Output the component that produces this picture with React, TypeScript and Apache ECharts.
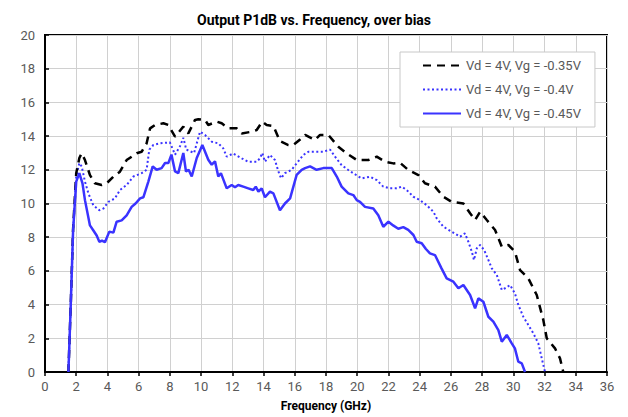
import React, { useEffect, useRef } from "react";
import * as echarts from "echarts";

const seriesNames = ["Vd = 4V, Vg = -0.35V", "Vd = 4V, Vg = -0.4V", "Vd = 4V, Vg = -0.45V"];

const freq35 = [1.5, 1.65, 1.8, 2.0, 2.2, 2.35, 2.56, 2.88, 3.2, 3.63, 3.95, 4.38, 4.8, 5.23, 5.87, 6.19, 6.51, 6.73, 7.05, 7.58, 7.9, 8.33, 8.86, 9.18, 9.61, 9.82, 10.25, 10.46, 11.0, 11.32, 11.74, 12.28, 12.6, 13.24, 13.56, 13.92, 14.2, 14.63, 15.05, 15.59, 15.9, 16.34, 16.66, 17.09, 17.3, 17.62, 18.15, 18.79, 19.32, 19.97, 20.71, 21.25, 21.78, 22.31, 22.74, 23.27, 23.92, 24.34, 24.98, 25.52, 26.05, 26.8, 27.23, 27.55, 27.87, 28.3, 28.83, 29.26, 29.68, 30.1, 30.43, 30.96, 31.5, 31.92, 32.14, 32.67, 32.99, 33.2];
const p1db35 = [0, 4, 8.5, 11.8, 12.7, 12.98, 12.58, 11.69, 11.2, 11.1, 11.2, 11.59, 11.89, 12.58, 12.98, 13.07, 13.57, 14.46, 14.66, 14.76, 14.66, 13.97, 14.56, 14.16, 14.96, 15.0, 14.96, 14.66, 14.86, 14.76, 14.46, 14.46, 14.16, 14.26, 14.36, 14.86, 14.66, 14.6, 13.7, 13.47, 13.47, 13.8, 14.07, 13.87, 13.77, 14.07, 14.07, 13.37, 12.98, 12.58, 12.58, 12.78, 12.48, 12.38, 12.42, 11.99, 11.69, 11.2, 11.0, 10.4, 10.1, 10.0, 9.42, 9.02, 9.51, 9.02, 8.43, 7.44, 7.54, 7.14, 6.05, 5.56, 4.57, 3.09, 2.0, 1.4, 0.81, 0];

const freq40 = [1.5, 1.65, 1.8, 2.0, 2.2, 2.35, 2.56, 2.78, 3.09, 3.48, 3.74, 4.06, 4.48, 4.8, 5.23, 5.66, 6.19, 6.51, 6.68, 6.94, 7.37, 8.0, 8.33, 8.65, 8.86, 9.05, 9.3, 9.55, 9.93, 10.25, 10.68, 11.1, 11.42, 11.64, 12.06, 12.6, 13.02, 13.56, 13.77, 13.92, 14.09, 14.41, 14.73, 14.95, 15.12, 15.37, 15.8, 16.12, 16.55, 16.87, 17.3, 17.83, 18.26, 18.58, 19.0, 19.43, 19.75, 20.29, 20.82, 21.25, 21.67, 22.1, 22.53, 22.85, 23.17, 23.6, 24.02, 24.45, 24.88, 25.09, 25.52, 26.05, 26.59, 26.9, 27.12, 27.34, 27.48, 27.66, 27.87, 28.13, 28.4, 28.62, 28.94, 29.26, 29.47, 29.79, 30.1, 30.32, 30.64, 30.96, 31.28, 31.6, 31.82, 32.03];
const p1db40 = [0, 4, 8.4, 11.6, 12.4, 12.2, 11.3, 10.6, 9.9, 9.6, 9.7, 10.1, 10.3, 10.8, 11.1, 11.6, 11.8, 12.0, 13.2, 13.47, 13.57, 13.63, 12.9, 13.4, 13.9, 13.2, 13.1, 13.0, 14.26, 14.07, 13.67, 13.57, 13.27, 12.78, 12.97, 12.68, 12.48, 12.48, 12.68, 13.0, 12.48, 12.88, 12.58, 11.9, 11.5, 11.8, 12.0, 12.38, 12.88, 13.07, 13.07, 13.07, 13.2, 12.78, 12.28, 11.99, 11.79, 11.49, 11.59, 11.39, 11.0, 10.9, 10.9, 11.0, 10.8, 10.4, 10.2, 9.9, 9.51, 9.12, 8.62, 8.33, 8.03, 8.23, 7.73, 7.14, 6.65, 7.34, 7.54, 7.24, 6.65, 6.15, 5.76, 4.87, 4.97, 5.16, 4.67, 3.98, 3.28, 2.79, 2.3, 1.7, 0.81, 0];

const freq45 = [1.5, 1.65, 1.8, 2.0, 2.2, 2.4, 2.56, 2.88, 3.1, 3.31, 3.48, 3.65, 3.84, 4.12, 4.38, 4.59, 4.91, 5.23, 5.55, 5.8, 6.09, 6.3, 6.62, 6.9, 7.15, 7.47, 7.69, 7.9, 8.1, 8.33, 8.54, 8.86, 9.03, 9.2, 9.4, 9.72, 10.08, 10.46, 10.68, 10.89, 11.1, 11.27, 11.64, 11.96, 12.17, 12.38, 12.7, 13.02, 13.34, 13.5, 13.67, 13.88, 14.09, 14.41, 14.63, 15.05, 15.37, 15.7, 16.12, 16.44, 16.66, 16.98, 17.4, 17.83, 18.37, 18.69, 19.0, 19.43, 19.75, 19.97, 20.18, 20.5, 21.03, 21.35, 21.67, 22.0, 22.3, 22.63, 22.95, 23.27, 23.6, 23.81, 24.13, 24.4, 24.66, 24.98, 25.4, 25.73, 26.16, 26.48, 26.8, 27.23, 27.55, 27.76, 28.08, 28.4, 28.72, 29.04, 29.26, 29.58, 29.9, 30.1, 30.32, 30.54, 30.75];
const p1db45 = [0, 4, 8.4, 11.3, 11.8, 11.2, 10.2, 8.7, 8.4, 8.1, 7.73, 7.8, 7.7, 8.33, 8.27, 8.92, 9.0, 9.3, 9.8, 10.0, 10.3, 10.37, 11.3, 12.2, 12.0, 12.1, 12.4, 12.4, 12.9, 11.9, 11.8, 13.0, 11.9, 12.0, 11.6, 12.7, 13.47, 12.6, 12.3, 12.5, 11.6, 11.8, 10.9, 11.1, 10.96, 11.1, 11.0, 10.9, 10.8, 11.0, 10.7, 10.9, 10.37, 10.7, 10.6, 9.6, 10.0, 10.3, 11.7, 12.0, 12.1, 12.2, 12.0, 12.1, 12.1, 11.6, 11.0, 10.6, 10.5, 10.2, 10.1, 9.8, 9.7, 9.3, 8.62, 8.92, 8.7, 8.5, 8.6, 8.43, 8.13, 7.73, 7.64, 7.3, 7.04, 6.94, 6.15, 5.56, 5.36, 4.97, 5.16, 4.57, 3.78, 4.37, 4.17, 3.28, 2.99, 2.49, 1.8, 2.2, 1.7, 1.4, 0.61, 0.51, 0];

const zip = (xs: number[], ys: number[]) => xs.map((x, i) => [x, ys[i]]);

export default function App() {
  const ref = useRef<HTMLDivElement>(null);
  useEffect(() => {
    if (!ref.current) return;
    const chart = echarts.init(ref.current, null, { renderer: "svg" });
    const font = "Roboto";
    chart.setOption({
      animation: false,
      backgroundColor: "#fff",
      title: {
        text: "Output P1dB vs. Frequency, over bias",
        left: "center",
        top: 8,
        textStyle: { fontFamily: font, fontSize: 14, fontWeight: "bold", color: "#000" },
      },
      grid: {
        left: 45,
        right: 21,
        top: 35,
        bottom: 45,
        show: true,
        borderColor: "#000",
        borderWidth: 2,
      },
      legend: {
        orient: "vertical",
        left: 400,
        top: 52,
        padding: [7, 14, 7, 22],
        itemGap: 11,
        itemWidth: 38,
        itemHeight: 14,
        backgroundColor: "#fff",
        borderColor: "#c8c8c8",
        borderWidth: 1,
        itemStyle: { color: "transparent", borderWidth: 0, opacity: 0 },
        textStyle: { fontFamily: font, fontSize: 13, color: "#595959" },
        data: seriesNames,
      },
      xAxis: {
        type: "value",
        min: 0,
        max: 36,
        interval: 2,
        name: "Frequency (GHz)",
        nameLocation: "middle",
        nameGap: 28,
        nameTextStyle: { fontFamily: font, fontSize: 12, fontWeight: "bold", color: "#000" },
        axisLine: { show: true, lineStyle: { color: "#000", width: 2 } },
        axisTick: { show: true, inside: false, length: 4, lineStyle: { color: "#000", width: 1.5 } },
        axisLabel: { fontFamily: font, fontSize: 13, color: "#595959", margin: 8 },
        splitLine: { show: true, lineStyle: { color: "#d0d0d0", width: 1 } },
      },
      yAxis: {
        type: "value",
        min: 0,
        max: 20,
        interval: 2,
        axisLine: { show: true, lineStyle: { color: "#000", width: 2 } },
        axisTick: { show: true, inside: true, length: 4, lineStyle: { color: "#000", width: 1.5 } },
        axisLabel: { fontFamily: font, fontSize: 13, color: "#595959", margin: 10 },
        splitLine: { show: true, lineStyle: { color: "#d0d0d0", width: 1 } },
      },
      series: [
        {
          name: seriesNames[0],
          type: "line",
          data: zip(freq35, p1db35),
          symbol: "none",
          color: "#000",
          lineStyle: { color: "#000", width: 2.5, type: [8, 6] },
          z: 3,
        },
        {
          name: seriesNames[1],
          type: "line",
          data: zip(freq40, p1db40),
          symbol: "none",
          color: "#3a33ff",
          lineStyle: { color: "#3a33ff", width: 2, type: [2, 2.5] },
          z: 2,
        },
        {
          name: seriesNames[2],
          type: "line",
          data: zip(freq45, p1db45),
          symbol: "none",
          color: "#3a33ff",
          lineStyle: { color: "#3a33ff", width: 2.5 },
          z: 4,
        },
      ],
    });
    return () => chart.dispose();
  }, []);
  return <div ref={ref} style={{ position: "fixed", left: 0, top: 0, width: 628, height: 417 }} />;
}
